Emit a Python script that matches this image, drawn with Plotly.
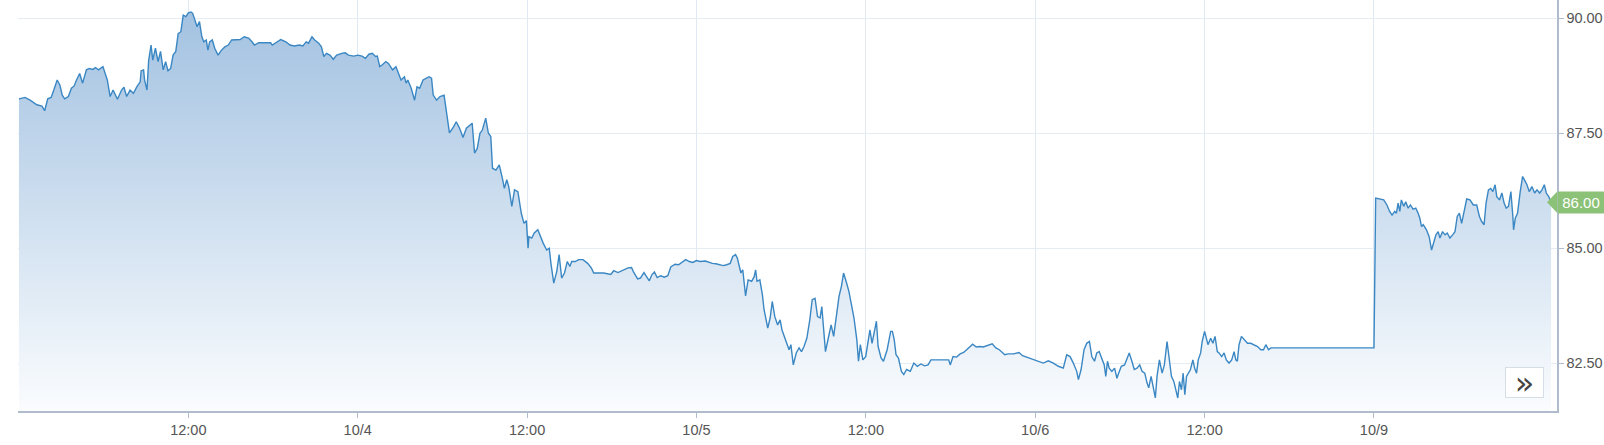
import pandas as pd
import plotly.graph_objects as go

# ---- data (hours after each day's midnight, price) ----
oct03_h = [0.00, 0.31, 0.43, 0.79, 1.03, 1.27, 1.63, 1.82, 2.04, 2.28, 2.47, 2.71, 2.90, 3.07, 3.24, 3.50,
           3.72, 3.91, 4.08, 4.30, 4.51, 4.78, 4.99, 5.23, 5.42, 5.64, 5.95, 6.26, 6.46, 6.67, 6.98, 7.27,
           7.44, 7.63, 7.87, 8.11, 8.35, 8.59, 8.66, 8.83, 8.90, 9.07, 9.19, 9.36, 9.48, 9.67, 9.86, 10.03,
           10.22, 10.39, 10.56, 10.75, 10.92, 11.11, 11.28, 11.47, 11.64, 11.83, 12.00, 12.19, 12.31, 12.48,
           12.62, 12.79, 12.96, 13.10, 13.27, 13.39, 13.51, 13.70, 13.87, 14.11, 14.35, 14.59, 14.83, 15.07,
           15.43, 15.67, 15.96, 16.27, 16.51, 16.68, 16.99, 17.35, 17.83, 17.95, 18.19, 18.55, 18.91, 19.20,
           19.51, 19.87, 20.11, 20.35, 20.52, 20.76, 20.95, 21.24, 21.43, 21.60, 21.79, 22.03, 22.27, 22.51,
           22.87, 23.11, 23.35, 23.71]
oct03_px = [88.25, 88.26, 88.28, 88.22, 88.17, 88.12, 88.09, 87.99, 88.25, 88.28, 88.44, 88.66, 88.55, 88.33,
            88.25, 88.30, 88.48, 88.53, 88.66, 88.80, 88.59, 88.88, 88.91, 88.89, 88.93, 88.88, 88.95, 88.66,
            88.30, 88.44, 88.24, 88.44, 88.50, 88.30, 88.44, 88.37, 88.51, 88.62, 88.86, 88.88, 88.66, 88.44,
            89.09, 89.42, 89.09, 89.35, 89.06, 89.28, 88.88, 89.06, 88.86, 88.91, 89.20, 89.28, 89.67, 89.71,
            90.07, 90.04, 90.12, 90.14, 90.11, 89.93, 89.82, 89.93, 89.60, 89.49, 89.53, 89.31, 89.49, 89.53,
            89.35, 89.20, 89.31, 89.38, 89.42, 89.53, 89.53, 89.54, 89.60, 89.57, 89.49, 89.42, 89.47, 89.47,
            89.47, 89.42, 89.47, 89.54, 89.49, 89.42, 89.40, 89.42, 89.40, 89.49, 89.46, 89.60, 89.53, 89.46,
            89.38, 89.17, 89.24, 89.20, 89.11, 89.20, 89.24, 89.25, 89.20, 89.18]

oct04_h = [0.02, 0.31, 0.55, 0.79, 1.03, 1.27, 1.39, 1.56, 1.75, 1.99, 2.18, 2.47, 2.71, 2.88, 3.07, 3.31,
           3.43, 3.55, 3.79, 4.03, 4.20, 4.39, 4.63, 4.87, 5.06, 5.23, 5.35, 5.59, 5.83, 6.12, 6.31, 6.50,
           6.79, 6.98, 7.22, 7.46, 7.70, 7.94, 8.11, 8.28, 8.47, 8.66, 8.83, 9.07, 9.26, 9.43, 9.55, 9.79,
           10.03, 10.27, 10.39, 10.56, 10.70, 10.92, 11.11, 11.35, 11.59, 11.78, 11.95, 12.07, 12.13, 12.33,
           12.51, 12.76, 12.93, 13.14, 13.39, 13.57, 13.69, 13.89, 14.10, 14.27, 14.45, 14.65, 14.85, 15.03,
           15.16, 15.41, 15.66, 15.96, 16.29, 16.55, 16.72, 16.92, 17.43, 17.93, 18.14, 18.44, 18.82, 19.15,
           19.40, 19.53, 19.83, 20.03, 20.28, 20.46, 20.66, 20.84, 21.02, 21.22, 21.47, 21.72, 21.97, 22.18,
           22.48, 22.73, 22.98, 23.24, 23.49, 23.74]
oct04_px = [89.20, 89.18, 89.13, 89.22, 89.24, 89.17, 89.18, 88.95, 88.99, 89.06, 89.02, 88.88, 88.95, 88.82,
            88.66, 88.73, 88.59, 88.66, 88.48, 88.22, 88.51, 88.48, 88.66, 88.70, 88.73, 88.70, 88.33, 88.22,
            88.30, 88.33, 87.93, 87.51, 87.64, 87.75, 87.61, 87.41, 87.61, 87.68, 87.72, 87.07, 87.17, 87.50,
            87.57, 87.83, 87.50, 87.43, 86.74, 86.70, 86.81, 86.49, 86.30, 86.49, 86.34, 85.91, 86.27, 86.23,
            85.76, 85.54, 85.60, 85.00, 85.25, 85.22, 85.33, 85.40, 85.25, 85.11, 84.96, 85.00, 84.67, 84.24,
            84.49, 84.86, 84.35, 84.46, 84.71, 84.60, 84.71, 84.71, 84.75, 84.75, 84.67, 84.57, 84.46, 84.46,
            84.46, 84.43, 84.51, 84.47, 84.53, 84.57, 84.58, 84.49, 84.33, 84.35, 84.47, 84.38, 84.29, 84.42,
            84.48, 84.36, 84.40, 84.37, 84.40, 84.59, 84.65, 84.64, 84.69, 84.75, 84.71, 84.69]

oct05_h = [0.00, 0.25, 0.63, 0.88, 1.13, 1.38, 1.64, 1.89, 2.14, 2.39, 2.57, 2.77, 2.90, 3.03, 3.15, 3.28,
           3.48, 3.66, 3.91, 4.09, 4.19, 4.29, 4.49, 4.67, 4.79, 5.05, 5.22, 5.37, 5.55, 5.75, 5.93, 6.06,
           6.18, 6.38, 6.56, 6.69, 6.86, 7.07, 7.27, 7.44, 7.62, 7.82, 8.03, 8.20, 8.40, 8.58, 8.76, 8.88,
           9.04, 9.14, 9.34, 9.54, 9.72, 9.92, 10.10, 10.27, 10.42, 10.60, 10.80, 10.98, 11.16, 11.36, 11.48,
           11.61, 11.79, 11.99, 12.12, 12.29, 12.44, 12.62, 12.75, 12.87, 13.08, 13.25, 13.51, 13.76, 13.88,
           14.01, 14.14, 14.31, 14.52, 14.69, 14.89, 15.15, 15.40, 15.65, 15.90, 16.16, 16.41, 16.61, 17.17,
           17.87, 17.98, 18.18, 18.43, 18.68, 18.93, 19.31, 19.57, 19.82, 20.07, 20.32, 20.65, 20.95, 21.21,
           21.46, 21.84, 22.09, 22.47, 22.85, 23.10, 23.48, 23.86]
oct05_px = [84.73, 84.71, 84.72, 84.69, 84.67, 84.66, 84.64, 84.62, 84.64, 84.67, 84.82, 84.86, 84.78, 84.64,
            84.46, 84.53, 83.96, 84.31, 84.28, 84.38, 84.53, 84.28, 84.31, 83.99, 83.66, 83.26, 83.48, 83.84,
            83.51, 83.33, 83.44, 83.22, 83.12, 82.93, 82.79, 82.90, 82.46, 82.72, 82.83, 82.75, 82.86, 83.04,
            83.44, 83.88, 83.91, 83.51, 83.48, 83.73, 83.15, 82.75, 83.04, 83.33, 83.08, 83.51, 83.95, 84.17,
            84.46, 84.28, 84.06, 83.77, 83.48, 83.01, 82.54, 82.90, 82.57, 82.64, 82.93, 83.22, 82.93, 83.22,
            83.41, 82.86, 82.61, 82.54, 82.79, 83.19, 83.19, 83.01, 82.68, 82.61, 82.32, 82.25, 82.36, 82.32,
            82.50, 82.43, 82.48, 82.44, 82.46, 82.57, 82.57, 82.57, 82.46, 82.64, 82.63, 82.70, 82.73, 82.83,
            82.91, 82.85, 82.86, 82.85, 82.88, 82.92, 82.83, 82.79, 82.68, 82.70, 82.70, 82.73, 82.66, 82.62,
            82.59]

oct06_h = [0.21, 0.57, 0.93, 1.28, 1.64, 1.99, 2.23, 2.47, 2.70, 2.94, 3.06, 3.25, 3.46, 3.65, 3.84, 4.01,
           4.20, 4.36, 4.53, 4.72, 4.89, 5.00, 5.12, 5.24, 5.43, 5.62, 5.79, 5.91, 6.10, 6.33, 6.50, 6.66,
           6.85, 7.02, 7.21, 7.40, 7.57, 7.76, 7.92, 8.04, 8.21, 8.35, 8.51, 8.63, 8.80, 8.99, 9.15, 9.34,
           9.51, 9.65, 9.82, 9.94, 10.10, 10.22, 10.36, 10.48, 10.60, 10.72, 10.84, 11.00, 11.17, 11.29,
           11.43, 11.55, 11.72, 11.83, 12.00, 12.12, 12.24, 12.43, 12.59, 12.74, 12.90, 13.02, 13.21, 13.38,
           13.54, 13.73, 13.92, 14.09, 14.21, 14.32, 14.44, 14.61, 14.80, 15.04, 15.27, 15.51, 15.75, 15.98,
           16.17, 16.34, 16.53, 16.70, 16.93]
oct06_px = [82.54, 82.50, 82.55, 82.50, 82.43, 82.39, 82.68, 82.64, 82.50, 82.32, 82.14, 82.36, 82.79, 82.93,
            82.97, 82.64, 82.54, 82.72, 82.75, 82.61, 82.46, 82.21, 82.54, 82.39, 82.32, 82.39, 82.17, 82.28,
            82.43, 82.46, 82.61, 82.72, 82.54, 82.36, 82.39, 82.46, 82.32, 82.28, 82.07, 81.96, 82.21, 81.99,
            81.74, 82.21, 82.57, 82.28, 82.46, 82.97, 82.50, 82.21, 82.10, 81.92, 81.74, 82.10, 81.92, 82.28,
            81.81, 82.21, 82.28, 82.36, 82.57, 82.39, 82.28, 82.57, 82.72, 82.97, 83.19, 83.01, 82.90, 83.04,
            82.93, 83.08, 82.75, 82.72, 82.64, 82.72, 82.57, 82.50, 82.57, 82.75, 82.57, 82.54, 82.90, 83.08,
            83.01, 82.93, 82.93, 82.90, 82.86, 82.79, 82.79, 82.90, 82.79, 82.83, 82.83]

oct09_h = [0.00, 0.12, 0.40, 0.69, 0.92, 1.11, 1.28, 1.47, 1.59, 1.71, 1.83, 1.94, 2.11, 2.25, 2.42, 2.58,
           2.77, 2.96, 3.13, 3.25, 3.37, 3.49, 3.72, 3.91, 4.08, 4.20, 4.39, 4.55, 4.67, 4.86, 5.03, 5.19,
           5.38, 5.57, 5.74, 5.90, 6.05, 6.21, 6.38, 6.57, 6.80, 7.04, 7.28, 7.47, 7.63, 7.80, 7.94, 8.11,
           8.27, 8.42, 8.58, 8.70, 8.89, 9.06, 9.22, 9.37, 9.53, 9.70, 9.84, 9.89, 10.01, 10.17, 10.36, 10.53,
           10.65, 10.84, 11.00, 11.19, 11.38, 11.55, 11.74, 11.90, 12.07, 12.21, 12.38, 12.55]
oct09_px = [82.83, 86.09, 86.07, 86.05, 85.94, 85.80, 85.72, 85.80, 85.76, 85.98, 85.80, 86.05, 85.91, 86.01,
            85.87, 85.94, 85.85, 85.87, 85.76, 85.65, 85.47, 85.51, 85.40, 85.25, 84.96, 85.07, 85.29, 85.36,
            85.22, 85.36, 85.29, 85.33, 85.22, 85.29, 85.36, 85.69, 85.76, 85.54, 85.83, 86.07, 86.05, 85.94,
            85.94, 85.69, 85.58, 85.51, 85.98, 86.27, 86.30, 86.23, 86.38, 86.12, 86.05, 86.20, 85.98, 85.87,
            85.91, 86.23, 85.69, 85.40, 85.65, 85.76, 86.23, 86.56, 86.49, 86.38, 86.23, 86.34, 86.20, 86.27,
            86.20, 86.27, 86.38, 86.20, 86.12, 86.00]

days = [("2023-10-03", oct03_h, oct03_px), ("2023-10-04", oct04_h, oct04_px),
        ("2023-10-05", oct05_h, oct05_px), ("2023-10-06", oct06_h, oct06_px),
        ("2023-10-09", oct09_h, oct09_px)]

tick_vals = ["2023-10-03 12:00", "2023-10-04 00:00", "2023-10-04 12:00", "2023-10-05 00:00",
             "2023-10-05 12:00", "2023-10-06 00:00", "2023-10-06 12:00", "2023-10-09 00:00"]
tick_text = ["12:00", "10/4", "12:00", "10/5", "12:00", "10/6", "12:00", "10/9"]
y_ticks = [82.5, 85.0, 87.5, 90.0]

# ---- build series ----
times, prices = [], []
for day, hrs, pxs in days:
    base = pd.Timestamp(day)
    times += list(base + pd.to_timedelta(hrs, unit="h"))
    prices += list(pxs)

last_price = prices[-1]
y_lo, y_hi = 81.457, 90.40

fig = go.Figure()
fig.add_trace(go.Scatter(
    x=times, y=prices, mode="lines",
    line=dict(color="#3a87c3", width=1.4),
    fill="tozeroy",
    fillgradient=dict(type="vertical", start=y_lo, stop=y_hi,
                      colorscale=[[0, "rgb(250,252,254)"], [1, "rgb(160,192,224)"]]),
    hoverinfo="skip", showlegend=False,
))

font_fam = "Liberation Sans, Arial, sans-serif"
fig.update_layout(
    width=1604, height=445,
    margin=dict(l=18, r=47, t=0, b=34),
    paper_bgcolor="white", plot_bgcolor="white",
    showlegend=False,
    font=dict(family=font_fam, size=14.5, color="#555555"),
    xaxis=dict(
        type="date",
        range=["2023-10-02 23:56", "2023-10-09 12:58"],
        rangebreaks=[dict(bounds=["2023-10-07", "2023-10-09"])],
        tickmode="array", tickvals=tick_vals, ticktext=tick_text,
        showgrid=True, gridcolor="#e0e8f2", gridwidth=1,
        showline=True, linecolor="#b0bccb", linewidth=1.5,
        ticks="outside", ticklen=5, tickcolor="#b0bccb",
        zeroline=False, fixedrange=True,
    ),
    yaxis=dict(
        side="right", range=[y_lo, y_hi],
        tickmode="array", tickvals=y_ticks, tickformat=".2f",
        showgrid=True, gridcolor="#e6ecf4", gridwidth=1,
        showline=True, linecolor="#b0bccb", linewidth=1.5,
        ticks="outside", ticklen=5, tickcolor="#b0bccb",
        zeroline=False, fixedrange=True,
    ),
)

# last-price label
label_green = "#8cc278"
fig.add_shape(type="path", xref="paper", yref="y", xsizemode="pixel", ysizemode="pixel",
              xanchor=1, yanchor=last_price, path="M -10,0 L 0,10.5 L 0,-10.5 Z",
              fillcolor=label_green, line=dict(width=0), layer="above")
fig.add_annotation(xref="paper", yref="y", x=1, y=last_price, xanchor="left", yanchor="middle",
                   text=f"{last_price:.2f}", showarrow=False,
                   font=dict(family=font_fam, size=15, color="white"),
                   bgcolor=label_green, borderpad=2, width=42, height=17)

# scroll button
fig.add_annotation(xref="paper", yref="paper", x=0.979, y=0.0693, xanchor="center", yanchor="middle",
                   text="»", showarrow=False,
                   font=dict(family="DejaVu Sans, sans-serif", size=32, color="#444444"),
                   bgcolor="white", bordercolor="#d5dde7", borderwidth=1, borderpad=1,
                   width=35, height=27)

fig.write_html("out.html", config={"displayModeBar": False, "staticPlot": True},
               post_script="document.body.style.margin='0';document.body.style.overflow='hidden';")
